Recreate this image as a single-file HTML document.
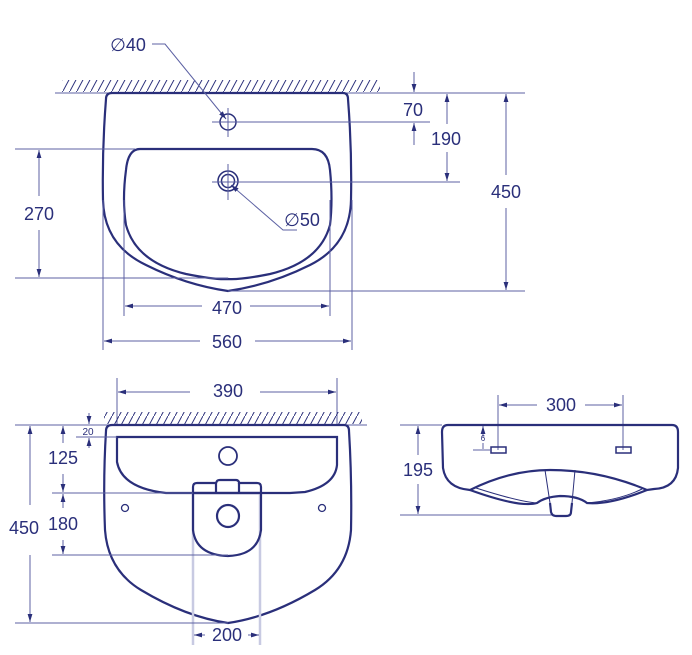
<!DOCTYPE html>
<html><head><meta charset="utf-8"><style>
body{margin:0;background:#fff}
svg{display:block}
text{font-family:"Liberation Sans","DejaVu Sans",sans-serif;fill:#2a2f7a;font-size:18px;text-anchor:middle}
.t{stroke:#5c61a3;stroke-width:1;fill:none}
.k{stroke:#2a2f7a;stroke-width:2.2;fill:none}
.e{stroke:#c8cae2;stroke-width:2.5;fill:none}
.h{stroke:#2a2f7a;stroke-width:1}
</style></head><body>
<svg width="692" height="655" viewBox="0 0 692 655" xmlns="http://www.w3.org/2000/svg">
<defs>
<marker id="a" viewBox="0 0 10 10" refX="10" refY="5" markerWidth="8" markerHeight="8" orient="auto-start-reverse"><path d="M0,2 L10,5 L0,8 Z" fill="#2a2f7a"/></marker>
<pattern id="hp" width="7" height="13" patternUnits="userSpaceOnUse"><line x1="0" y1="13" x2="7" y2="0" class="h"/></pattern>
</defs>

<!-- TOP VIEW -->
<rect x="62" y="80" width="318" height="12" fill="url(#hp)"/>
<line x1="55" y1="93" x2="525" y2="93" class="t"/>
<path class="k" d="M112,93 L343,93 Q348,93 348,99 Q352,150 351,200 Q350,245 310,265 Q270,285 228,291 Q186,285 146,265 Q104,245 103,200 Q102,150 106,99 Q106,93 112,93 Z"/>
<path class="k" d="M140,149 L312,149 Q328,149 330,170 Q333,200 330,225 Q320,262 270,274 Q240,280 228,279 Q216,280 186,274 Q136,262 126,225 Q122,200 126,170 Q128,149 140,149 Z"/>
<circle cx="228" cy="122" r="8" class="t" style="stroke:#2a2f7a;stroke-width:1.5"/>
<line x1="228" y1="108" x2="228" y2="137" class="t"/><line x1="212" y1="122" x2="430" y2="122" class="t"/>
<circle cx="228" cy="181" r="10" class="t" style="stroke:#2a2f7a;stroke-width:1.5"/><circle cx="228" cy="181" r="6.5" class="t" style="stroke:#2a2f7a;stroke-width:1.5"/>
<line x1="228" y1="164" x2="228" y2="200" class="t"/><line x1="212" y1="182" x2="460" y2="182" class="t"/>
<polyline points="152,44 165,44 226,119" class="t" marker-end="url(#a)"/>
<text x="128" y="51">∅40</text>
<polyline points="297,230 283,230 231,185" class="t" marker-end="url(#a)"/>
<text x="302" y="226">∅50</text>
<line x1="15" y1="149" x2="135" y2="149" class="t"/>
<line x1="15" y1="278" x2="228" y2="278" class="t"/>
<line x1="39" y1="196" x2="39" y2="150" class="t" marker-end="url(#a)"/>
<line x1="39" y1="230" x2="39" y2="277" class="t" marker-end="url(#a)"/>
<text x="39" y="220">270</text>
<line x1="124" y1="200" x2="124" y2="316" class="t"/><line x1="330" y1="200" x2="330" y2="316" class="t"/>
<line x1="202" y1="306" x2="125" y2="306" class="t" marker-end="url(#a)"/>
<line x1="250" y1="306" x2="329" y2="306" class="t" marker-end="url(#a)"/>
<text x="227" y="314">470</text>
<line x1="103" y1="200" x2="103" y2="350" class="t"/><line x1="352" y1="200" x2="352" y2="350" class="t"/>
<line x1="200" y1="341" x2="104" y2="341" class="t" marker-end="url(#a)"/>
<line x1="255" y1="341" x2="351" y2="341" class="t" marker-end="url(#a)"/>
<text x="227" y="348">560</text>
<line x1="414" y1="72" x2="414" y2="92" class="t" marker-end="url(#a)"/>
<line x1="414" y1="145" x2="414" y2="123" class="t" marker-end="url(#a)"/>
<text x="413" y="116">70</text>
<line x1="447" y1="124" x2="447" y2="94" class="t" marker-end="url(#a)"/>
<line x1="447" y1="152" x2="447" y2="181" class="t" marker-end="url(#a)"/>
<text x="446" y="145">190</text>
<line x1="506" y1="175" x2="506" y2="94" class="t" marker-end="url(#a)"/>
<line x1="506" y1="208" x2="506" y2="290" class="t" marker-end="url(#a)"/>
<text x="506" y="198">450</text>
<line x1="228" y1="291" x2="525" y2="291" class="t"/>

<!-- FRONT/BOTTOM VIEW -->
<line x1="117" y1="378" x2="117" y2="425" class="t"/><line x1="337" y1="378" x2="337" y2="425" class="t"/>
<line x1="190" y1="392" x2="118" y2="392" class="t" marker-end="url(#a)"/>
<line x1="260" y1="392" x2="336" y2="392" class="t" marker-end="url(#a)"/>
<text x="228" y="397">390</text>
<rect x="104" y="412" width="258" height="12" fill="url(#hp)"/>
<line x1="15" y1="425" x2="367" y2="425" class="t"/>
<path class="k" d="M112,425 L344,425 Q349,425 349,431 Q352,480 351,530 Q348,570 315,590 Q270,617 228,623 Q186,617 141,590 Q108,570 105,530 Q103,480 106,431 Q106,425 112,425 Z"/>
<path class="k" d="M117,437 L337,437 L337,465 Q335,485 305,492 L290,493 L166,493 Q122,488 117,462 Z"/>
<circle cx="228" cy="456" r="9" class="k" style="stroke-width:1.8"/>
<line x1="193" y1="493" x2="193" y2="645" class="e"/><line x1="260" y1="493" x2="260" y2="645" class="e"/>
<path class="k" d="M193,493 L193,487 Q193,483 197,483 L216,483 L217,481 Q218,480 220,480 L236,480 Q238,480 239,482 L239,483 L257,483 Q261,483 261,487 L261,530 Q258,555 228,556 Q196,555 193,530 Z"/>
<line x1="216" y1="483" x2="216" y2="493" class="k"/><line x1="239" y1="483" x2="239" y2="493" class="k"/>
<line x1="193" y1="493" x2="261" y2="493" class="k"/>
<circle cx="228" cy="516" r="11" class="k"/>
<circle cx="125" cy="508" r="3.5" class="t" style="stroke:#2a2f7a;stroke-width:1.3"/>
<circle cx="322" cy="508" r="3.5" class="t" style="stroke:#2a2f7a;stroke-width:1.3"/>
<line x1="76" y1="437" x2="117" y2="437" class="t"/>
<line x1="52" y1="493" x2="193" y2="493" class="t"/>
<line x1="52" y1="555" x2="228" y2="555" class="t"/>
<line x1="15" y1="623" x2="228" y2="623" class="t"/>
<line x1="30" y1="505" x2="30" y2="426" class="t" marker-end="url(#a)"/>
<line x1="30" y1="555" x2="30" y2="622" class="t" marker-end="url(#a)"/>
<text x="24" y="534">450</text>
<line x1="63" y1="443" x2="63" y2="426" class="t" marker-end="url(#a)"/>
<line x1="63" y1="474" x2="63" y2="492" class="t" marker-end="url(#a)"/>
<text x="63" y="464">125</text>
<line x1="63" y1="508" x2="63" y2="494" class="t" marker-end="url(#a)"/>
<line x1="63" y1="540" x2="63" y2="554" class="t" marker-end="url(#a)"/>
<text x="63" y="530">180</text>
<line x1="89" y1="413" x2="89" y2="424" class="t" marker-end="url(#a)"/>
<line x1="89" y1="448" x2="89" y2="438" class="t" marker-end="url(#a)"/>
<text x="88" y="435" style="font-size:10px">20</text>
<line x1="205" y1="635" x2="194" y2="635" class="t" marker-end="url(#a)"/>
<line x1="248" y1="635" x2="259" y2="635" class="t" marker-end="url(#a)"/>
<text x="227" y="641">200</text>

<!-- SIDE VIEW -->
<line x1="498" y1="395" x2="498" y2="450" class="t"/><line x1="623" y1="395" x2="623" y2="450" class="t"/>
<line x1="537" y1="405" x2="499" y2="405" class="t" marker-end="url(#a)"/>
<line x1="585" y1="405" x2="622" y2="405" class="t" marker-end="url(#a)"/>
<text x="561" y="411">300</text>
<line x1="400" y1="425" x2="442" y2="425" class="t"/>
<line x1="400" y1="515" x2="555" y2="515" class="t"/>
<path class="k" d="M448,425 L672,425 Q678,425 678,432 L678,468 Q676,488 654,489 L647,490 Q600,470 550,470 Q510,470 470,490 Q446,488 443,468 L442,432 Q442,425 448,425 Z"/>
<path class="k" d="M470,490 Q520,508 537,503 Q545,497 560,496 Q578,496 587,503 Q610,505 647,490"/>
<path class="t" d="M476,488 Q520,502 537,503 M587,503 Q620,500 642,489" style="stroke:#2a2f7a"/>
<path class="k" d="M550,503 L551,512 Q552,516 556,516 L566,516 Q571,516 571,512 L572,503"/>
<path class="t" style="stroke:#2a2f7a" d="M545,470 L550,503 M575,470 L572,503"/>
<rect x="491" y="447" width="15" height="6" class="k" style="stroke-width:1.5"/>
<rect x="616" y="447" width="15" height="6" class="k" style="stroke-width:1.5"/>
<line x1="473" y1="450" x2="491" y2="450" class="t"/>
<line x1="483" y1="437" x2="483" y2="426" class="t" marker-end="url(#a)"/>
<line x1="483" y1="443" x2="483" y2="449" class="t"/>
<text x="483" y="441" style="font-size:8px">6</text>
<line x1="418" y1="455" x2="418" y2="426" class="t" marker-end="url(#a)"/>
<line x1="418" y1="484" x2="418" y2="514" class="t" marker-end="url(#a)"/>
<text x="418" y="476">195</text>
</svg>
</body></html>
